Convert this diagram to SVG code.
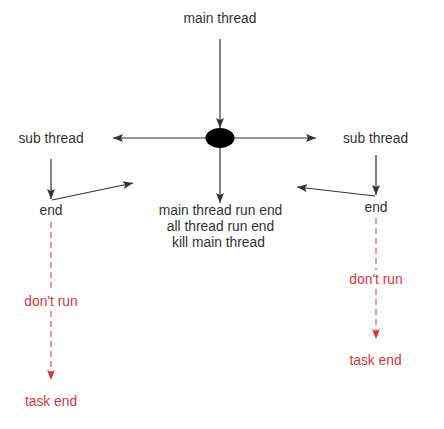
<svg xmlns="http://www.w3.org/2000/svg" width="444" height="429" viewBox="0 0 444 429">
<defs>
<marker id="ah" viewBox="0 0 10 8" refX="10" refY="4" markerWidth="10" markerHeight="8" markerUnits="userSpaceOnUse" orient="auto">
<path d="M0,0 L10,4 L0,8 L2,4 Z" fill="#333"/>
</marker>
<marker id="ahr" viewBox="0 0 10 8" refX="10" refY="4" markerWidth="10" markerHeight="8" markerUnits="userSpaceOnUse" orient="auto">
<path d="M0,0 L10,4 L0,8 L2,4 Z" fill="#d9343c"/>
</marker>
</defs>
<style>
text{font-family:"Liberation Sans",Arial,sans-serif;font-size:13.8px;text-anchor:middle;fill:#333}
.r{fill:#d9343c}
.c{fill:none;stroke:#333;stroke-width:1.2}
.d{fill:none;stroke:#d9343c;stroke-width:1;stroke-dasharray:6,4}
</style>
<rect width="444" height="429" fill="#fff"/>
<g id="connectors">
<line class="c" x1="220" y1="39" x2="220" y2="128" marker-end="url(#ah)"/>
<line class="c" x1="206" y1="138" x2="113" y2="138" marker-end="url(#ah)"/>
<line class="c" x1="234" y1="138" x2="316" y2="138" marker-end="url(#ah)"/>
<line class="c" x1="220" y1="148" x2="220" y2="203" marker-end="url(#ah)"/>
<line class="c" x1="51" y1="159" x2="51" y2="199" marker-end="url(#ah)"/>
<line class="c" x1="52" y1="200" x2="133" y2="183" marker-end="url(#ah)"/>
<line class="c" x1="376" y1="155" x2="376" y2="195" marker-end="url(#ah)"/>
<line class="c" x1="375" y1="196" x2="297" y2="187" marker-end="url(#ah)"/>
<line class="d" x1="51" y1="222" x2="51" y2="292"/>
<line class="d" x1="51" y1="311" x2="51" y2="380" marker-end="url(#ahr)"/>
<line class="d" x1="376" y1="218" x2="376" y2="270"/>
<line class="d" x1="376" y1="289" x2="376" y2="339" marker-end="url(#ahr)"/>
</g>
<g id="main-thread"><text x="220" y="23">main thread</text></g>
<g id="fork"><ellipse cx="220" cy="138" rx="14.5" ry="10" fill="#000"/></g>
<g id="sub-thread-left"><text x="51" y="143">sub thread</text></g>
<g id="sub-thread-right"><text x="375.5" y="143">sub thread</text></g>
<g id="end-left"><text x="51" y="215">end</text></g>
<g id="end-right"><text x="376" y="212">end</text></g>
<g id="main-end">
<text x="220.5" y="214.5">main thread run end</text>
<text x="220.5" y="230.5">all thread run end</text>
<text x="218.5" y="246.5">kill main thread</text>
</g>
<g id="dont-run-left"><text class="r" x="51" y="306">don't run</text></g>
<g id="dont-run-right"><text class="r" x="376" y="284">don't run</text></g>
<g id="task-end-left"><text class="r" x="51" y="406">task end</text></g>
<g id="task-end-right"><text class="r" x="375.5" y="365">task end</text></g>
</svg>
